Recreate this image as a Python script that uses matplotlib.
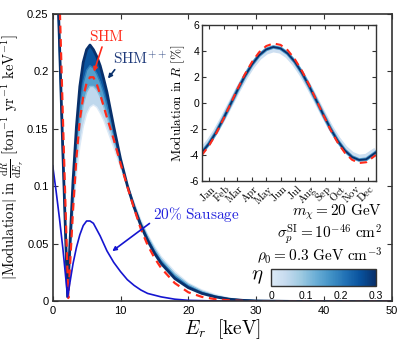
import numpy as np
import matplotlib
matplotlib.use("Agg")
import matplotlib.pyplot as plt
from matplotlib.colors import LinearSegmentedColormap, Normalize
from matplotlib.cm import ScalarMappable

plt.rcParams["font.family"] = ["Liberation Sans", "DejaVu Sans"]
plt.rcParams["mathtext.fontset"] = "cm"
plt.rcParams["axes.unicode_minus"] = False

# recoil energy grid [keV]
E = [0, 0.5, 1, 1.5, 2, 2.2, 2.5, 3, 3.5, 4, 4.5, 5, 5.5, 6, 6.5, 7, 7.5, 8, 9, 10,
     11, 12, 13, 14, 15, 16, 18, 20, 22, 24, 26, 28, 30, 35, 40, 50]
# SHM++ modulation for eta = 0, 0.1, 0.2, 0.3
shmpp_eta0 = [0.39, 0.30, 0.21, 0.12, 0.03, 0.004, 0.03, 0.075, 0.11, 0.135, 0.152, 0.163,
              0.169, 0.171, 0.169, 0.164, 0.158, 0.150, 0.134, 0.117, 0.101, 0.086, 0.071,
              0.058, 0.048, 0.039, 0.026, 0.016, 0.010, 0.006, 0.003, 0.0015, 0.0008, 0.0002, 0, 0]
shmpp_eta1 = [0.397, 0.307, 0.215, 0.123, 0.033, 0.004, 0.035, 0.085, 0.125, 0.152, 0.171, 0.182,
              0.187, 0.187, 0.184, 0.178, 0.170, 0.161, 0.140, 0.119, 0.101, 0.085, 0.069,
              0.057, 0.046, 0.037, 0.024, 0.015, 0.009, 0.005, 0.0026, 0.0013, 0.0007, 0.0002, 0, 0]
shmpp_eta2 = [0.403, 0.313, 0.220, 0.127, 0.037, 0.004, 0.040, 0.095, 0.139, 0.170, 0.190, 0.201,
              0.205, 0.203, 0.198, 0.191, 0.182, 0.171, 0.146, 0.121, 0.101, 0.083, 0.068,
              0.055, 0.044, 0.035, 0.022, 0.0135, 0.008, 0.0045, 0.0023, 0.0012, 0.0006, 0.0001, 0, 0]
shmpp_eta3 = [0.41, 0.32, 0.225, 0.13, 0.04, 0.004, 0.045, 0.105, 0.152, 0.187, 0.208, 0.219,
              0.223, 0.219, 0.213, 0.205, 0.194, 0.182, 0.152, 0.124, 0.101, 0.082, 0.066,
              0.053, 0.042, 0.033, 0.020, 0.012, 0.007, 0.004, 0.002, 0.001, 0.0005, 0.0001, 0, 0]
etas = [0.0, 0.1, 0.2, 0.3]

E_shm = [0, 0.5, 1, 1.5, 2, 2.3, 2.5, 3, 3.5, 4, 4.5, 5, 5.5, 6, 6.5, 7, 7.5, 8, 9, 10,
         11, 12, 13, 14, 15, 16, 18, 20, 22, 24, 26, 28, 30, 35, 40, 50]
shm = [0.48, 0.37, 0.265, 0.16, 0.06, 0.003, 0.025, 0.08, 0.125, 0.158, 0.178, 0.190, 0.195,
       0.195, 0.189, 0.180, 0.170, 0.160, 0.141, 0.120, 0.100, 0.081, 0.063, 0.049, 0.038,
       0.029, 0.016, 0.008, 0.004, 0.002, 0.001, 0.0005, 0, 0, 0, 0]

E_saus = [0, 0.5, 1, 1.5, 2, 2.2, 2.5, 3, 3.5, 4, 4.5, 5, 5.5, 6, 7, 8, 9, 10, 11, 12, 13, 14,
          16, 18, 20, 25, 30, 40, 50]
sausage = [0.118, 0.096, 0.072, 0.046, 0.016, 0.004, 0.015, 0.033, 0.047, 0.058, 0.066, 0.070,
           0.070, 0.068, 0.057, 0.044, 0.034, 0.026, 0.019, 0.014, 0.010, 0.007, 0.004, 0.002,
           0.001, 0.0003, 0, 0, 0]

# annual modulation (inset), day of year
days = [0, 15, 30, 45, 60, 75, 90, 105, 120, 135, 150, 165, 180, 195, 210, 225, 240, 255,
        270, 285, 300, 315, 330, 345, 365]
mod_eta0 = [-3.64, -2.99, -2.15, -1.16, -0.10, 0.96, 1.95, 2.81, 3.49, 3.92, 4.10, 4.00, 3.63,
            3.01, 2.20, 1.23, 0.18, -0.88, -1.90, -2.78, -3.49, -3.97, -4.19, -4.13, -3.64]
mod_eta3 = [-3.81, -3.13, -2.25, -1.22, -0.11, 1.01, 2.05, 2.95, 3.66, 4.11, 4.30, 4.19, 3.80,
            3.16, 2.31, 1.29, 0.19, -0.92, -1.99, -2.92, -3.66, -4.16, -4.39, -4.33, -3.81]
mod_shm = [-4.01, -3.29, -2.35, -1.26, -0.09, 1.09, 2.19, 3.14, 3.89, 4.37, 4.57, 4.46, 4.05,
           3.36, 2.46, 1.39, 0.23, -0.95, -2.08, -3.06, -3.84, -4.37, -4.62, -4.56, -4.01]
month_days = [15, 46, 74, 105, 135, 166, 196, 227, 258, 288, 319, 349]
months = ["Jan", "Feb", "Mar", "Apr", "May", "Jun", "Jul", "Aug", "Sep", "Oct", "Nov", "Dec"]

base = plt.get_cmap("Blues")
cmap = LinearSegmentedColormap.from_list("bl", base(np.linspace(0.13, 1.0, 256)))
norm = Normalize(0, 0.3)
navy = "#08306b"
spine_col = "#333333"

fig = plt.figure(figsize=(4.07, 3.5), dpi=100)
ax = fig.add_axes([0.1295, 0.1386, 0.833, 0.8214])

curves = [shmpp_eta0, shmpp_eta1, shmpp_eta2, shmpp_eta3]
for k in range(3):
    ax.fill_between(E, curves[k], curves[k + 1], color=cmap(norm((etas[k] + etas[k + 1]) / 2)),
                    lw=0)
for k in range(4):
    ax.plot(E, curves[k], color=cmap(norm(etas[k])), lw=1.0 if k < 3 else 2.0)
ax.plot(E_shm, shm, color="#ff2a1a", lw=1.6, ls=(0, (3.5, 2.5)))
ax.plot(E_saus, sausage, color="#1515d0", lw=1.2)

ax.set_xlim(0, 50)
ax.set_ylim(0, 0.25)
ax.set_xticks([0, 10, 20, 30, 40, 50])
ax.set_yticks([0, 0.05, 0.1, 0.15, 0.2, 0.25])
ax.set_yticklabels(["0", "0.05", "0.1", "0.15", "0.2", "0.25"])
ax.tick_params(direction="in", top=True, right=True, labelsize=8, length=3.5,
               color=spine_col, pad=3)
for s in ax.spines.values():
    s.set_color(spine_col)
    s.set_linewidth(1.2)
ax.set_xlabel(r"$E_r\ \ [\mathrm{keV}]$", fontsize=14, labelpad=1)
ax.set_ylabel(r"$|\mathrm{Modulation}|\ \mathrm{in}\ \frac{\mathrm{d}R}{\mathrm{d}E_r}\ "
              r"[\mathrm{ton}^{-1}\ \mathrm{yr}^{-1}\ \mathrm{keV}^{-1}]$",
              fontsize=10.5)
ax.yaxis.set_label_coords(-0.08, 0.5)

ax.annotate("", xy=(5.95, 0.1975), xytext=(7.4, 0.2236),
            arrowprops=dict(arrowstyle="-|>", color="#ff2a1a", lw=1.2, mutation_scale=6))
ax.text(7.9, 0.2306, r"$\mathrm{SHM}$", color="#ff2a1a", fontsize=11, ha="center", va="center")
ax.annotate("", xy=(7.9, 0.192), xytext=(9.4, 0.2035),
            arrowprops=dict(arrowstyle="-|>", color=navy, lw=1.2, mutation_scale=6))
ax.text(12.9, 0.211, r"$\mathrm{SHM}^{++}$", color="#1f3a7a", fontsize=11, ha="center",
        va="center")
ax.annotate("", xy=(8.45, 0.0423), xytext=(14.6, 0.0693),
            arrowprops=dict(arrowstyle="-|>", color="#1515d0", lw=1.2, mutation_scale=6))
ax.text(14.8, 0.0754, r"$20\%\ \mathrm{Sausage}$", color="#2222dd", fontsize=11, ha="left",
        va="center")

ax.text(48.6, 0.0775, r"$m_\chi = 20\ \mathrm{GeV}$", fontsize=11, ha="right", va="center")
ax.text(48.6, 0.0590, r"$\sigma_p^{\mathrm{SI}} = 10^{-46}\ \mathrm{cm}^2$", fontsize=11,
        ha="right", va="center")
ax.text(48.6, 0.0395, r"$\rho_0 = 0.3\ \mathrm{GeV\ cm}^{-3}$", fontsize=11, ha="right",
        va="center")

# colorbar for eta
cax = fig.add_axes([0.666, 0.184, 0.258, 0.0477])
cb = fig.colorbar(ScalarMappable(norm=norm, cmap=cmap), cax=cax, orientation="horizontal")
cb.set_ticks([0, 0.1, 0.2, 0.3])
cb.set_ticklabels(["0", "0.1", "0.2", "0.3"])
cax.tick_params(labelsize=7.5, length=0, pad=4)
cb.outline.set_edgecolor(spine_col)
cb.outline.set_linewidth(1.0)
fig.text(0.631, 0.211, r"$\eta$", fontsize=15, ha="center", va="center")

# inset: annual modulation
ins = fig.add_axes([0.496, 0.483, 0.4275, 0.446])
ins.plot(days, mod_eta0, color=cmap(0.1), lw=4.0, solid_capstyle="butt")
ins.plot(days, mod_eta3, color=cmap(0.55), lw=2.6)
ins.plot(days, mod_eta3, color=navy, lw=1.3)
ins.plot(days, mod_shm, color="#ff2a1a", lw=1.5, ls=(0, (3.5, 2.5)))
ins.set_xlim(0, 365)
ins.set_ylim(-6, 6)
ins.set_yticks([-6, -4, -2, 0, 2, 4, 6])
ins.set_xticks(month_days)
ins.set_xticklabels([r"$\mathrm{%s}$" % m for m in months], rotation=45, ha="right",
                    rotation_mode="anchor", fontsize=6.5)
ins.tick_params(direction="in", top=True, right=True, labelsize=7.5, length=3,
                color=spine_col, pad=2)
ins.tick_params(axis="x", pad=1)
for s in ins.spines.values():
    s.set_color(spine_col)
    s.set_linewidth(1.0)
ins.set_ylabel(r"$\mathrm{Modulation\ in}\ R\ [\%]$", fontsize=9.5, labelpad=2)

fig.savefig("out.png", dpi=100)
